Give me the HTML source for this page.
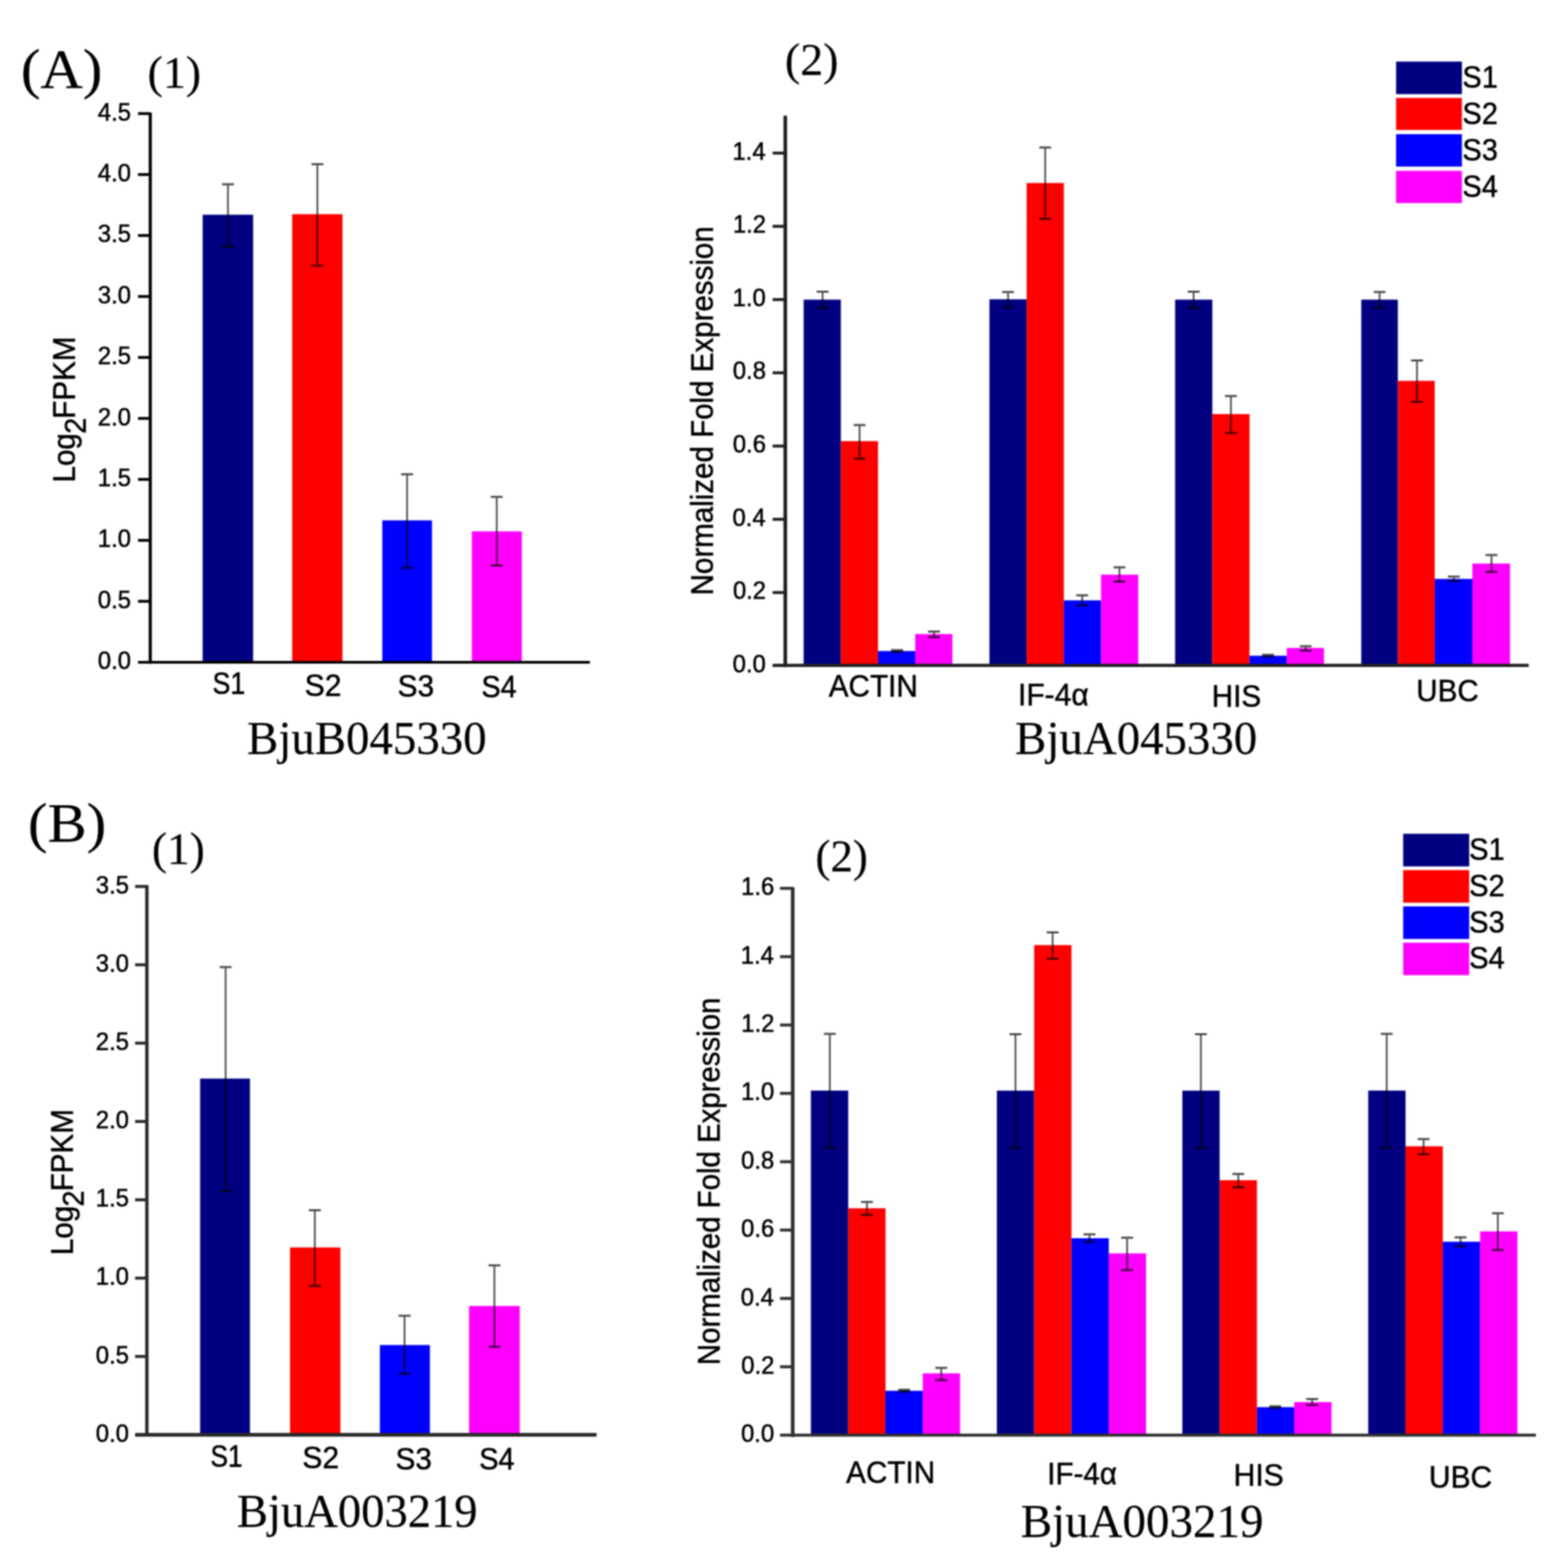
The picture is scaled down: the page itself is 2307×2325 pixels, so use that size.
<!DOCTYPE html>
<html lang="en">
<head>
<meta charset="utf-8">
<title>Gene expression validation: RNA-seq Log2FPKM vs qRT-PCR</title>
<style>
html,body{margin:0;padding:0;background:#fff;}
body{width:2307px;height:2325px;overflow:hidden;}
svg{display:block;}
text{white-space:pre;}
</style>
</head>
<body>
<svg width="2307" height="2325" viewBox="0 0 2307 2325" role="img" aria-label="Bar charts of Log2FPKM and normalized fold expression for BjuB045330 and BjuA003219">
<defs><filter id="soft" x="0" y="0" width="100%" height="100%" filterUnits="userSpaceOnUse" color-interpolation-filters="sRGB"><feGaussianBlur stdDeviation="1.0"/></filter></defs>
<g filter="url(#soft)"><rect x="0" y="0" width="2307" height="2325" fill="#fff"/>
<rect x="300.50" y="318.40" width="74.80" height="663.60" fill="#000080"/>
<rect x="433.20" y="317.60" width="74.60" height="664.40" fill="#ff0000"/>
<rect x="566.80" y="771.60" width="73.70" height="210.40" fill="#0000ff"/>
<rect x="699.60" y="787.90" width="74.10" height="194.10" fill="#ff00ff"/>
<path d="M329.20 273.20H346.80M329.20 365.80H346.80" stroke="#000" stroke-opacity="0.72" stroke-width="3.0" fill="none"/>
<path d="M338.00 274.70V364.30" stroke="#000" stroke-opacity="0.72" stroke-width="2.5" fill="none"/>
<path d="M461.80 243.40H479.40M461.80 393.90H479.40" stroke="#000" stroke-opacity="0.72" stroke-width="3.0" fill="none"/>
<path d="M470.60 244.90V392.40" stroke="#000" stroke-opacity="0.72" stroke-width="2.5" fill="none"/>
<path d="M594.80 703.30H612.40M594.80 842.00H612.40" stroke="#000" stroke-opacity="0.72" stroke-width="3.0" fill="none"/>
<path d="M603.60 704.80V840.50" stroke="#000" stroke-opacity="0.72" stroke-width="2.5" fill="none"/>
<path d="M727.70 736.70H745.30M727.70 838.50H745.30" stroke="#000" stroke-opacity="0.72" stroke-width="3.0" fill="none"/>
<path d="M736.50 738.20V837.00" stroke="#000" stroke-opacity="0.72" stroke-width="2.5" fill="none"/>
<line x1="222.80" y1="167.00" x2="222.80" y2="984.30" stroke="#000" stroke-width="4.6"/>
<line x1="204.60" y1="982.00" x2="874.60" y2="982.00" stroke="#000" stroke-width="4.2"/>
<text x="145.10" y="992.20" font-family="Liberation Sans, sans-serif" font-size="37.0" textLength="49.12" lengthAdjust="spacingAndGlyphs" fill="#000" stroke="#000" stroke-width="0.7">0.0</text>
<line x1="204.60" y1="891.60" x2="222.80" y2="891.60" stroke="#000" stroke-width="4.2"/>
<text x="145.10" y="901.80" font-family="Liberation Sans, sans-serif" font-size="37.0" textLength="49.12" lengthAdjust="spacingAndGlyphs" fill="#000" stroke="#000" stroke-width="0.7">0.5</text>
<line x1="204.60" y1="801.20" x2="222.80" y2="801.20" stroke="#000" stroke-width="4.2"/>
<text x="145.10" y="811.40" font-family="Liberation Sans, sans-serif" font-size="37.0" textLength="49.12" lengthAdjust="spacingAndGlyphs" fill="#000" stroke="#000" stroke-width="0.7">1.0</text>
<line x1="204.60" y1="710.80" x2="222.80" y2="710.80" stroke="#000" stroke-width="4.2"/>
<text x="145.10" y="721.00" font-family="Liberation Sans, sans-serif" font-size="37.0" textLength="49.12" lengthAdjust="spacingAndGlyphs" fill="#000" stroke="#000" stroke-width="0.7">1.5</text>
<line x1="204.60" y1="620.40" x2="222.80" y2="620.40" stroke="#000" stroke-width="4.2"/>
<text x="145.10" y="630.60" font-family="Liberation Sans, sans-serif" font-size="37.0" textLength="49.12" lengthAdjust="spacingAndGlyphs" fill="#000" stroke="#000" stroke-width="0.7">2.0</text>
<line x1="204.60" y1="530.00" x2="222.80" y2="530.00" stroke="#000" stroke-width="4.2"/>
<text x="145.10" y="540.20" font-family="Liberation Sans, sans-serif" font-size="37.0" textLength="49.12" lengthAdjust="spacingAndGlyphs" fill="#000" stroke="#000" stroke-width="0.7">2.5</text>
<line x1="204.60" y1="439.60" x2="222.80" y2="439.60" stroke="#000" stroke-width="4.2"/>
<text x="145.10" y="449.80" font-family="Liberation Sans, sans-serif" font-size="37.0" textLength="49.12" lengthAdjust="spacingAndGlyphs" fill="#000" stroke="#000" stroke-width="0.7">3.0</text>
<line x1="204.60" y1="349.20" x2="222.80" y2="349.20" stroke="#000" stroke-width="4.2"/>
<text x="145.10" y="359.40" font-family="Liberation Sans, sans-serif" font-size="37.0" textLength="49.12" lengthAdjust="spacingAndGlyphs" fill="#000" stroke="#000" stroke-width="0.7">3.5</text>
<line x1="204.60" y1="258.80" x2="222.80" y2="258.80" stroke="#000" stroke-width="4.2"/>
<text x="145.10" y="269.00" font-family="Liberation Sans, sans-serif" font-size="37.0" textLength="49.12" lengthAdjust="spacingAndGlyphs" fill="#000" stroke="#000" stroke-width="0.7">4.0</text>
<line x1="204.60" y1="168.40" x2="222.80" y2="168.40" stroke="#000" stroke-width="4.2"/>
<text x="145.10" y="178.60" font-family="Liberation Sans, sans-serif" font-size="37.0" textLength="49.12" lengthAdjust="spacingAndGlyphs" fill="#000" stroke="#000" stroke-width="0.7">4.5</text>
<text x="30.98" y="130.10" font-family="Liberation Serif, serif" font-size="83" textLength="120.88" lengthAdjust="spacingAndGlyphs" fill="#000" stroke="#000" stroke-width="0.25">(A)</text>
<text x="218.84" y="129.60" font-family="Liberation Serif, serif" font-size="68.5" textLength="79.40" lengthAdjust="spacingAndGlyphs" fill="#000" stroke="#000" stroke-width="0.25">(1)</text>
<text x="314.90" y="1029.20" font-family="Liberation Sans, sans-serif" font-size="46" textLength="48.82" lengthAdjust="spacingAndGlyphs" fill="#000" stroke="#000" stroke-width="0.7">S1</text>
<text x="451.70" y="1031.50" font-family="Liberation Sans, sans-serif" font-size="46" textLength="54.45" lengthAdjust="spacingAndGlyphs" fill="#000" stroke="#000" stroke-width="0.7">S2</text>
<text x="589.51" y="1033.40" font-family="Liberation Sans, sans-serif" font-size="46" textLength="54.10" lengthAdjust="spacingAndGlyphs" fill="#000" stroke="#000" stroke-width="0.7">S3</text>
<text x="713.77" y="1034.00" font-family="Liberation Sans, sans-serif" font-size="46" textLength="52.33" lengthAdjust="spacingAndGlyphs" fill="#000" stroke="#000" stroke-width="0.7">S4</text>
<text x="366.32" y="1118.00" font-family="Liberation Serif, serif" font-size="70" textLength="355.14" lengthAdjust="spacingAndGlyphs" fill="#000" stroke="#000" stroke-width="0.25">BjuB045330</text>
<text transform="translate(110.50 715.51) rotate(-90) scale(0.955 1)" font-family="Liberation Sans, sans-serif" font-size="46" fill="#000" stroke="#000" stroke-width="0.7">Log<tspan x="75.59" dy="16.8" font-size="45">2</tspan><tspan x="99.07" dy="-16.8">FPKM</tspan></text>
<rect x="1191.50" y="444.30" width="55.15" height="542.30" fill="#000080"/>
<rect x="1246.65" y="654.10" width="55.15" height="332.50" fill="#ff0000"/>
<rect x="1301.80" y="965.30" width="55.15" height="21.30" fill="#0000ff"/>
<rect x="1356.95" y="940.20" width="55.15" height="46.40" fill="#ff00ff"/>
<rect x="1467.00" y="443.80" width="55.15" height="542.80" fill="#000080"/>
<rect x="1522.15" y="271.40" width="55.15" height="715.20" fill="#ff0000"/>
<rect x="1577.30" y="890.20" width="55.15" height="96.40" fill="#0000ff"/>
<rect x="1632.45" y="852.10" width="55.15" height="134.50" fill="#ff00ff"/>
<rect x="1742.30" y="444.30" width="55.15" height="542.30" fill="#000080"/>
<rect x="1797.45" y="614.00" width="55.15" height="372.60" fill="#ff0000"/>
<rect x="1852.60" y="972.30" width="55.15" height="14.30" fill="#0000ff"/>
<rect x="1907.75" y="960.80" width="55.15" height="25.80" fill="#ff00ff"/>
<rect x="2018.30" y="444.30" width="54.20" height="542.30" fill="#000080"/>
<rect x="2072.50" y="564.70" width="54.70" height="421.90" fill="#ff0000"/>
<rect x="2127.20" y="858.40" width="55.80" height="128.20" fill="#0000ff"/>
<rect x="2183.00" y="835.60" width="55.80" height="151.00" fill="#ff00ff"/>
<path d="M1210.80 432.50H1228.40M1210.80 456.30H1228.40" stroke="#000" stroke-opacity="0.72" stroke-width="3.0" fill="none"/>
<path d="M1219.60 434.00V454.80" stroke="#000" stroke-opacity="0.72" stroke-width="2.5" fill="none"/>
<path d="M1265.60 630.30H1283.20M1265.60 680.00H1283.20" stroke="#000" stroke-opacity="0.72" stroke-width="3.0" fill="none"/>
<path d="M1274.40 631.80V678.50" stroke="#000" stroke-opacity="0.72" stroke-width="2.5" fill="none"/>
<path d="M1321.20 963.90H1338.80M1321.20 966.60H1338.80" stroke="#000" stroke-opacity="0.72" stroke-width="3.0" fill="none"/>
<path d="M1330.00 965.40V965.10" stroke="#000" stroke-opacity="0.72" stroke-width="2.5" fill="none"/>
<path d="M1376.00 936.50H1393.60M1376.00 944.70H1393.60" stroke="#000" stroke-opacity="0.72" stroke-width="3.0" fill="none"/>
<path d="M1384.80 938.00V943.20" stroke="#000" stroke-opacity="0.72" stroke-width="2.5" fill="none"/>
<path d="M1485.80 432.90H1503.40M1485.80 456.20H1503.40" stroke="#000" stroke-opacity="0.72" stroke-width="3.0" fill="none"/>
<path d="M1494.60 434.40V454.70" stroke="#000" stroke-opacity="0.72" stroke-width="2.5" fill="none"/>
<path d="M1540.90 218.80H1558.50M1540.90 324.50H1558.50" stroke="#000" stroke-opacity="0.72" stroke-width="3.0" fill="none"/>
<path d="M1549.70 220.30V323.00" stroke="#000" stroke-opacity="0.72" stroke-width="2.5" fill="none"/>
<path d="M1595.70 882.70H1613.30M1595.70 897.70H1613.30" stroke="#000" stroke-opacity="0.72" stroke-width="3.0" fill="none"/>
<path d="M1604.50 884.20V896.20" stroke="#000" stroke-opacity="0.72" stroke-width="2.5" fill="none"/>
<path d="M1651.00 841.30H1668.60M1651.00 862.60H1668.60" stroke="#000" stroke-opacity="0.72" stroke-width="3.0" fill="none"/>
<path d="M1659.80 842.80V861.10" stroke="#000" stroke-opacity="0.72" stroke-width="2.5" fill="none"/>
<path d="M1760.90 432.50H1778.50M1760.90 456.30H1778.50" stroke="#000" stroke-opacity="0.72" stroke-width="3.0" fill="none"/>
<path d="M1769.70 434.00V454.80" stroke="#000" stroke-opacity="0.72" stroke-width="2.5" fill="none"/>
<path d="M1816.20 587.30H1833.80M1816.20 642.10H1833.80" stroke="#000" stroke-opacity="0.72" stroke-width="3.0" fill="none"/>
<path d="M1825.00 588.80V640.60" stroke="#000" stroke-opacity="0.72" stroke-width="2.5" fill="none"/>
<path d="M1871.20 971.00H1888.80M1871.20 973.40H1888.80" stroke="#000" stroke-opacity="0.72" stroke-width="3.0" fill="none"/>
<path d="M1880.00 972.50V971.90" stroke="#000" stroke-opacity="0.72" stroke-width="2.5" fill="none"/>
<path d="M1927.10 958.30H1944.70M1927.10 964.80H1944.70" stroke="#000" stroke-opacity="0.72" stroke-width="3.0" fill="none"/>
<path d="M1935.90 959.80V963.30" stroke="#000" stroke-opacity="0.72" stroke-width="2.5" fill="none"/>
<path d="M2036.60 433.00H2054.20M2036.60 456.30H2054.20" stroke="#000" stroke-opacity="0.72" stroke-width="3.0" fill="none"/>
<path d="M2045.40 434.50V454.80" stroke="#000" stroke-opacity="0.72" stroke-width="2.5" fill="none"/>
<path d="M2092.10 534.50H2109.70M2092.10 595.80H2109.70" stroke="#000" stroke-opacity="0.72" stroke-width="3.0" fill="none"/>
<path d="M2100.90 536.00V594.30" stroke="#000" stroke-opacity="0.72" stroke-width="2.5" fill="none"/>
<path d="M2146.70 855.10H2164.30M2146.70 861.40H2164.30" stroke="#000" stroke-opacity="0.72" stroke-width="3.0" fill="none"/>
<path d="M2155.50 856.60V859.90" stroke="#000" stroke-opacity="0.72" stroke-width="2.5" fill="none"/>
<path d="M2202.50 823.00H2220.10M2202.50 848.10H2220.10" stroke="#000" stroke-opacity="0.72" stroke-width="3.0" fill="none"/>
<path d="M2211.30 824.50V846.60" stroke="#000" stroke-opacity="0.72" stroke-width="2.5" fill="none"/>
<line x1="1164.30" y1="171.40" x2="1164.30" y2="989.30" stroke="#202020" stroke-width="5.4"/>
<line x1="1145.50" y1="986.60" x2="2266.60" y2="986.60" stroke="#202020" stroke-width="4.6"/>
<text x="1086.30" y="996.80" font-family="Liberation Sans, sans-serif" font-size="37.0" textLength="49.12" lengthAdjust="spacingAndGlyphs" fill="#000" stroke="#000" stroke-width="0.7">0.0</text>
<line x1="1145.50" y1="878.60" x2="1164.30" y2="878.60" stroke="#202020" stroke-width="4.4"/>
<text x="1086.65" y="888.20" font-family="Liberation Sans, sans-serif" font-size="37.0" textLength="49.12" lengthAdjust="spacingAndGlyphs" fill="#000" stroke="#000" stroke-width="0.7">0.2</text>
<line x1="1145.50" y1="770.00" x2="1164.30" y2="770.00" stroke="#202020" stroke-width="4.4"/>
<text x="1085.94" y="779.60" font-family="Liberation Sans, sans-serif" font-size="37.0" textLength="49.12" lengthAdjust="spacingAndGlyphs" fill="#000" stroke="#000" stroke-width="0.7">0.4</text>
<line x1="1145.50" y1="661.40" x2="1164.30" y2="661.40" stroke="#202020" stroke-width="4.4"/>
<text x="1086.47" y="671.00" font-family="Liberation Sans, sans-serif" font-size="37.0" textLength="49.12" lengthAdjust="spacingAndGlyphs" fill="#000" stroke="#000" stroke-width="0.7">0.6</text>
<line x1="1145.50" y1="552.80" x2="1164.30" y2="552.80" stroke="#202020" stroke-width="4.4"/>
<text x="1086.47" y="562.40" font-family="Liberation Sans, sans-serif" font-size="37.0" textLength="49.12" lengthAdjust="spacingAndGlyphs" fill="#000" stroke="#000" stroke-width="0.7">0.8</text>
<line x1="1145.50" y1="444.20" x2="1164.30" y2="444.20" stroke="#202020" stroke-width="4.4"/>
<text x="1086.30" y="453.80" font-family="Liberation Sans, sans-serif" font-size="37.0" textLength="49.12" lengthAdjust="spacingAndGlyphs" fill="#000" stroke="#000" stroke-width="0.7">1.0</text>
<line x1="1145.50" y1="335.60" x2="1164.30" y2="335.60" stroke="#202020" stroke-width="4.4"/>
<text x="1086.65" y="345.20" font-family="Liberation Sans, sans-serif" font-size="37.0" textLength="49.12" lengthAdjust="spacingAndGlyphs" fill="#000" stroke="#000" stroke-width="0.7">1.2</text>
<line x1="1145.50" y1="227.00" x2="1164.30" y2="227.00" stroke="#202020" stroke-width="4.4"/>
<text x="1085.94" y="236.60" font-family="Liberation Sans, sans-serif" font-size="37.0" textLength="49.12" lengthAdjust="spacingAndGlyphs" fill="#000" stroke="#000" stroke-width="0.7">1.4</text>
<text x="1163.74" y="111.40" font-family="Liberation Serif, serif" font-size="68.5" textLength="79.40" lengthAdjust="spacingAndGlyphs" fill="#000" stroke="#000" stroke-width="0.25">(2)</text>
<text x="1228.78" y="1032.90" font-family="Liberation Sans, sans-serif" font-size="46" textLength="132.04" lengthAdjust="spacingAndGlyphs" fill="#000" stroke="#000" stroke-width="0.7">ACTIN</text>
<text x="1509.29" y="1046.20" font-family="Liberation Sans, sans-serif" font-size="46" textLength="104.89" lengthAdjust="spacingAndGlyphs" fill="#000" stroke="#000" stroke-width="0.7">IF-4α</text>
<text x="1796.47" y="1047.80" font-family="Liberation Sans, sans-serif" font-size="46" textLength="73.50" lengthAdjust="spacingAndGlyphs" fill="#000" stroke="#000" stroke-width="0.7">HIS</text>
<text x="2099.81" y="1039.70" font-family="Liberation Sans, sans-serif" font-size="46" textLength="92.60" lengthAdjust="spacingAndGlyphs" fill="#000" stroke="#000" stroke-width="0.7">UBC</text>
<text x="1505.12" y="1118.00" font-family="Liberation Serif, serif" font-size="70" textLength="358.95" lengthAdjust="spacingAndGlyphs" fill="#000" stroke="#000" stroke-width="0.25">BjuA045330</text>
<text transform="translate(1057.00 882.80) rotate(-90)" font-family="Liberation Sans, sans-serif" font-size="46" textLength="547.35" lengthAdjust="spacingAndGlyphs" fill="#000" stroke="#000" stroke-width="0.7">Normalized Fold Expression</text>
<rect x="2069.90" y="91.30" width="97.60" height="48.30" fill="#000080"/>
<rect x="2069.90" y="145.20" width="97.60" height="47.50" fill="#ff0000"/>
<rect x="2069.90" y="199.00" width="97.60" height="48.00" fill="#0000ff"/>
<rect x="2069.90" y="253.30" width="97.60" height="47.80" fill="#ff00ff"/>
<text x="2168.27" y="130.40" font-family="Liberation Sans, sans-serif" font-size="46" textLength="52.50" lengthAdjust="spacingAndGlyphs" fill="#000" stroke="#000" stroke-width="0.7">S1</text>
<text x="2168.27" y="184.40" font-family="Liberation Sans, sans-serif" font-size="46" textLength="52.50" lengthAdjust="spacingAndGlyphs" fill="#000" stroke="#000" stroke-width="0.7">S2</text>
<text x="2168.27" y="238.00" font-family="Liberation Sans, sans-serif" font-size="46" textLength="52.50" lengthAdjust="spacingAndGlyphs" fill="#000" stroke="#000" stroke-width="0.7">S3</text>
<text x="2168.27" y="291.50" font-family="Liberation Sans, sans-serif" font-size="46" textLength="52.52" lengthAdjust="spacingAndGlyphs" fill="#000" stroke="#000" stroke-width="0.7">S4</text>
<rect x="296.70" y="1599.30" width="73.90" height="528.20" fill="#000080"/>
<rect x="430.00" y="1849.70" width="74.70" height="277.80" fill="#ff0000"/>
<rect x="563.20" y="1994.40" width="74.20" height="133.10" fill="#0000ff"/>
<rect x="695.40" y="1936.50" width="75.20" height="191.00" fill="#ff00ff"/>
<path d="M325.70 1434.10H343.30M325.70 1766.10H343.30" stroke="#000" stroke-opacity="0.72" stroke-width="3.0" fill="none"/>
<path d="M334.50 1435.60V1764.60" stroke="#000" stroke-opacity="0.72" stroke-width="2.5" fill="none"/>
<path d="M458.00 1794.40H475.60M458.00 1906.70H475.60" stroke="#000" stroke-opacity="0.72" stroke-width="3.0" fill="none"/>
<path d="M466.80 1795.90V1905.20" stroke="#000" stroke-opacity="0.72" stroke-width="2.5" fill="none"/>
<path d="M591.00 1951.00H608.60M591.00 2036.90H608.60" stroke="#000" stroke-opacity="0.72" stroke-width="3.0" fill="none"/>
<path d="M599.80 1952.50V2035.40" stroke="#000" stroke-opacity="0.72" stroke-width="2.5" fill="none"/>
<path d="M724.20 1876.20H741.80M724.20 1996.90H741.80" stroke="#000" stroke-opacity="0.72" stroke-width="3.0" fill="none"/>
<path d="M733.00 1877.70V1995.40" stroke="#000" stroke-opacity="0.72" stroke-width="2.5" fill="none"/>
<line x1="217.80" y1="1312.60" x2="217.80" y2="2130.00" stroke="#282828" stroke-width="5.0"/>
<line x1="200.30" y1="2127.50" x2="884.50" y2="2127.50" stroke="#282828" stroke-width="5.4"/>
<text x="142.10" y="2137.70" font-family="Liberation Sans, sans-serif" font-size="37.0" textLength="49.12" lengthAdjust="spacingAndGlyphs" fill="#000" stroke="#000" stroke-width="0.7">0.0</text>
<line x1="200.30" y1="2011.35" x2="217.80" y2="2011.35" stroke="#282828" stroke-width="4.4"/>
<text x="142.10" y="2021.55" font-family="Liberation Sans, sans-serif" font-size="37.0" textLength="49.12" lengthAdjust="spacingAndGlyphs" fill="#000" stroke="#000" stroke-width="0.7">0.5</text>
<line x1="200.30" y1="1895.20" x2="217.80" y2="1895.20" stroke="#282828" stroke-width="4.4"/>
<text x="142.10" y="1905.40" font-family="Liberation Sans, sans-serif" font-size="37.0" textLength="49.12" lengthAdjust="spacingAndGlyphs" fill="#000" stroke="#000" stroke-width="0.7">1.0</text>
<line x1="200.30" y1="1779.05" x2="217.80" y2="1779.05" stroke="#282828" stroke-width="4.4"/>
<text x="142.10" y="1789.25" font-family="Liberation Sans, sans-serif" font-size="37.0" textLength="49.12" lengthAdjust="spacingAndGlyphs" fill="#000" stroke="#000" stroke-width="0.7">1.5</text>
<line x1="200.30" y1="1662.90" x2="217.80" y2="1662.90" stroke="#282828" stroke-width="4.4"/>
<text x="142.10" y="1673.10" font-family="Liberation Sans, sans-serif" font-size="37.0" textLength="49.12" lengthAdjust="spacingAndGlyphs" fill="#000" stroke="#000" stroke-width="0.7">2.0</text>
<line x1="200.30" y1="1546.75" x2="217.80" y2="1546.75" stroke="#282828" stroke-width="4.4"/>
<text x="142.10" y="1556.95" font-family="Liberation Sans, sans-serif" font-size="37.0" textLength="49.12" lengthAdjust="spacingAndGlyphs" fill="#000" stroke="#000" stroke-width="0.7">2.5</text>
<line x1="200.30" y1="1430.60" x2="217.80" y2="1430.60" stroke="#282828" stroke-width="4.4"/>
<text x="142.10" y="1440.80" font-family="Liberation Sans, sans-serif" font-size="37.0" textLength="49.12" lengthAdjust="spacingAndGlyphs" fill="#000" stroke="#000" stroke-width="0.7">3.0</text>
<line x1="200.30" y1="1314.45" x2="217.80" y2="1314.45" stroke="#282828" stroke-width="4.4"/>
<text x="142.10" y="1324.65" font-family="Liberation Sans, sans-serif" font-size="37.0" textLength="49.12" lengthAdjust="spacingAndGlyphs" fill="#000" stroke="#000" stroke-width="0.7">3.5</text>
<text x="41.49" y="1247.60" font-family="Liberation Serif, serif" font-size="83" textLength="115.85" lengthAdjust="spacingAndGlyphs" fill="#000" stroke="#000" stroke-width="0.25">(B)</text>
<text x="225.17" y="1281.40" font-family="Liberation Serif, serif" font-size="68.5" textLength="78.53" lengthAdjust="spacingAndGlyphs" fill="#000" stroke="#000" stroke-width="0.25">(1)</text>
<text x="311.94" y="2174.70" font-family="Liberation Sans, sans-serif" font-size="46" textLength="47.74" lengthAdjust="spacingAndGlyphs" fill="#000" stroke="#000" stroke-width="0.7">S1</text>
<text x="448.29" y="2176.70" font-family="Liberation Sans, sans-serif" font-size="46" textLength="54.55" lengthAdjust="spacingAndGlyphs" fill="#000" stroke="#000" stroke-width="0.7">S2</text>
<text x="586.52" y="2178.70" font-family="Liberation Sans, sans-serif" font-size="46" textLength="53.78" lengthAdjust="spacingAndGlyphs" fill="#000" stroke="#000" stroke-width="0.7">S3</text>
<text x="710.47" y="2178.70" font-family="Liberation Sans, sans-serif" font-size="46" textLength="52.54" lengthAdjust="spacingAndGlyphs" fill="#000" stroke="#000" stroke-width="0.7">S4</text>
<text x="351.33" y="2264.00" font-family="Liberation Serif, serif" font-size="70" textLength="356.67" lengthAdjust="spacingAndGlyphs" fill="#000" stroke="#000" stroke-width="0.25">BjuA003219</text>
<text transform="translate(107.50 1861.11) rotate(-90) scale(0.955 1)" font-family="Liberation Sans, sans-serif" font-size="46" fill="#000" stroke="#000" stroke-width="0.7">Log<tspan x="75.59" dy="16.8" font-size="45">2</tspan><tspan x="99.07" dy="-16.8">FPKM</tspan></text>
<rect x="1202.30" y="1617.10" width="55.30" height="510.90" fill="#000080"/>
<rect x="1257.60" y="1791.60" width="55.30" height="336.40" fill="#ff0000"/>
<rect x="1312.90" y="2062.20" width="55.30" height="65.80" fill="#0000ff"/>
<rect x="1368.20" y="2036.40" width="55.30" height="91.60" fill="#ff00ff"/>
<rect x="1478.00" y="1617.20" width="55.30" height="510.80" fill="#000080"/>
<rect x="1533.30" y="1401.40" width="55.30" height="726.60" fill="#ff0000"/>
<rect x="1588.60" y="1836.00" width="55.30" height="292.00" fill="#0000ff"/>
<rect x="1643.90" y="1858.50" width="55.30" height="269.50" fill="#ff00ff"/>
<rect x="1753.00" y="1617.20" width="55.30" height="510.80" fill="#000080"/>
<rect x="1808.30" y="1750.00" width="55.30" height="378.00" fill="#ff0000"/>
<rect x="1863.60" y="2086.50" width="55.30" height="41.50" fill="#0000ff"/>
<rect x="1918.90" y="2079.00" width="55.30" height="49.00" fill="#ff00ff"/>
<rect x="2028.60" y="1617.10" width="55.30" height="510.90" fill="#000080"/>
<rect x="2083.90" y="1699.70" width="55.30" height="428.30" fill="#ff0000"/>
<rect x="2139.20" y="1841.20" width="55.30" height="286.80" fill="#0000ff"/>
<rect x="2194.50" y="1825.90" width="55.30" height="302.10" fill="#ff00ff"/>
<path d="M1221.50 1533.00H1239.10M1221.50 1702.20H1239.10" stroke="#000" stroke-opacity="0.72" stroke-width="3.0" fill="none"/>
<path d="M1230.30 1534.50V1700.70" stroke="#000" stroke-opacity="0.72" stroke-width="2.5" fill="none"/>
<path d="M1276.60 1782.30H1294.20M1276.60 1801.60H1294.20" stroke="#000" stroke-opacity="0.72" stroke-width="3.0" fill="none"/>
<path d="M1285.40 1783.80V1800.10" stroke="#000" stroke-opacity="0.72" stroke-width="2.5" fill="none"/>
<path d="M1331.70 2060.80H1349.30M1331.70 2063.40H1349.30" stroke="#000" stroke-opacity="0.72" stroke-width="3.0" fill="none"/>
<path d="M1340.50 2062.30V2061.90" stroke="#000" stroke-opacity="0.72" stroke-width="2.5" fill="none"/>
<path d="M1386.80 2028.20H1404.40M1386.80 2046.40H1404.40" stroke="#000" stroke-opacity="0.72" stroke-width="3.0" fill="none"/>
<path d="M1395.60 2029.70V2044.90" stroke="#000" stroke-opacity="0.72" stroke-width="2.5" fill="none"/>
<path d="M1496.80 1533.40H1514.40M1496.80 1702.10H1514.40" stroke="#000" stroke-opacity="0.72" stroke-width="3.0" fill="none"/>
<path d="M1505.60 1534.90V1700.60" stroke="#000" stroke-opacity="0.72" stroke-width="2.5" fill="none"/>
<path d="M1551.90 1382.60H1569.50M1551.90 1421.40H1569.50" stroke="#000" stroke-opacity="0.72" stroke-width="3.0" fill="none"/>
<path d="M1560.70 1384.10V1419.90" stroke="#000" stroke-opacity="0.72" stroke-width="2.5" fill="none"/>
<path d="M1606.50 1830.30H1624.10M1606.50 1841.50H1624.10" stroke="#000" stroke-opacity="0.72" stroke-width="3.0" fill="none"/>
<path d="M1615.30 1831.80V1840.00" stroke="#000" stroke-opacity="0.72" stroke-width="2.5" fill="none"/>
<path d="M1662.30 1835.30H1679.90M1662.30 1883.30H1679.90" stroke="#000" stroke-opacity="0.72" stroke-width="3.0" fill="none"/>
<path d="M1671.10 1836.80V1881.80" stroke="#000" stroke-opacity="0.72" stroke-width="2.5" fill="none"/>
<path d="M1771.70 1533.40H1789.30M1771.70 1702.10H1789.30" stroke="#000" stroke-opacity="0.72" stroke-width="3.0" fill="none"/>
<path d="M1780.50 1534.90V1700.60" stroke="#000" stroke-opacity="0.72" stroke-width="2.5" fill="none"/>
<path d="M1827.20 1740.70H1844.80M1827.20 1760.50H1844.80" stroke="#000" stroke-opacity="0.72" stroke-width="3.0" fill="none"/>
<path d="M1836.00 1742.20V1759.00" stroke="#000" stroke-opacity="0.72" stroke-width="2.5" fill="none"/>
<path d="M1882.00 2085.20H1899.60M1882.00 2087.60H1899.60" stroke="#000" stroke-opacity="0.72" stroke-width="3.0" fill="none"/>
<path d="M1890.80 2086.70V2086.10" stroke="#000" stroke-opacity="0.72" stroke-width="2.5" fill="none"/>
<path d="M1936.60 2074.50H1954.20M1936.60 2083.20H1954.20" stroke="#000" stroke-opacity="0.72" stroke-width="3.0" fill="none"/>
<path d="M1945.40 2076.00V2081.70" stroke="#000" stroke-opacity="0.72" stroke-width="2.5" fill="none"/>
<path d="M2047.20 1533.00H2064.80M2047.20 1702.20H2064.80" stroke="#000" stroke-opacity="0.72" stroke-width="3.0" fill="none"/>
<path d="M2056.00 1534.50V1700.70" stroke="#000" stroke-opacity="0.72" stroke-width="2.5" fill="none"/>
<path d="M2101.90 1689.00H2119.50M2101.90 1711.50H2119.50" stroke="#000" stroke-opacity="0.72" stroke-width="3.0" fill="none"/>
<path d="M2110.70 1690.50V1710.00" stroke="#000" stroke-opacity="0.72" stroke-width="2.5" fill="none"/>
<path d="M2156.70 1834.70H2174.30M2156.70 1847.90H2174.30" stroke="#000" stroke-opacity="0.72" stroke-width="3.0" fill="none"/>
<path d="M2165.50 1836.20V1846.40" stroke="#000" stroke-opacity="0.72" stroke-width="2.5" fill="none"/>
<path d="M2212.00 1799.10H2229.60M2212.00 1853.40H2229.60" stroke="#000" stroke-opacity="0.72" stroke-width="3.0" fill="none"/>
<path d="M2220.80 1800.60V1851.90" stroke="#000" stroke-opacity="0.72" stroke-width="2.5" fill="none"/>
<line x1="1175.30" y1="1315.40" x2="1175.30" y2="2130.70" stroke="#303030" stroke-width="5.4"/>
<line x1="1156.50" y1="2128.00" x2="2277.20" y2="2128.00" stroke="#303030" stroke-width="4.6"/>
<text x="1098.70" y="2138.20" font-family="Liberation Sans, sans-serif" font-size="37.0" textLength="49.12" lengthAdjust="spacingAndGlyphs" fill="#000" stroke="#000" stroke-width="0.7">0.0</text>
<line x1="1156.50" y1="2026.65" x2="1175.30" y2="2026.65" stroke="#303030" stroke-width="4.4"/>
<text x="1099.05" y="2036.85" font-family="Liberation Sans, sans-serif" font-size="37.0" textLength="49.12" lengthAdjust="spacingAndGlyphs" fill="#000" stroke="#000" stroke-width="0.7">0.2</text>
<line x1="1156.50" y1="1925.30" x2="1175.30" y2="1925.30" stroke="#303030" stroke-width="4.4"/>
<text x="1098.34" y="1935.50" font-family="Liberation Sans, sans-serif" font-size="37.0" textLength="49.12" lengthAdjust="spacingAndGlyphs" fill="#000" stroke="#000" stroke-width="0.7">0.4</text>
<line x1="1156.50" y1="1823.95" x2="1175.30" y2="1823.95" stroke="#303030" stroke-width="4.4"/>
<text x="1098.87" y="1834.15" font-family="Liberation Sans, sans-serif" font-size="37.0" textLength="49.12" lengthAdjust="spacingAndGlyphs" fill="#000" stroke="#000" stroke-width="0.7">0.6</text>
<line x1="1156.50" y1="1722.60" x2="1175.30" y2="1722.60" stroke="#303030" stroke-width="4.4"/>
<text x="1098.87" y="1732.80" font-family="Liberation Sans, sans-serif" font-size="37.0" textLength="49.12" lengthAdjust="spacingAndGlyphs" fill="#000" stroke="#000" stroke-width="0.7">0.8</text>
<line x1="1156.50" y1="1621.25" x2="1175.30" y2="1621.25" stroke="#303030" stroke-width="4.4"/>
<text x="1098.70" y="1631.45" font-family="Liberation Sans, sans-serif" font-size="37.0" textLength="49.12" lengthAdjust="spacingAndGlyphs" fill="#000" stroke="#000" stroke-width="0.7">1.0</text>
<line x1="1156.50" y1="1519.90" x2="1175.30" y2="1519.90" stroke="#303030" stroke-width="4.4"/>
<text x="1099.05" y="1530.10" font-family="Liberation Sans, sans-serif" font-size="37.0" textLength="49.12" lengthAdjust="spacingAndGlyphs" fill="#000" stroke="#000" stroke-width="0.7">1.2</text>
<line x1="1156.50" y1="1418.55" x2="1175.30" y2="1418.55" stroke="#303030" stroke-width="4.4"/>
<text x="1098.34" y="1428.75" font-family="Liberation Sans, sans-serif" font-size="37.0" textLength="49.12" lengthAdjust="spacingAndGlyphs" fill="#000" stroke="#000" stroke-width="0.7">1.4</text>
<line x1="1156.50" y1="1317.20" x2="1175.30" y2="1317.20" stroke="#303030" stroke-width="4.4"/>
<text x="1098.87" y="1327.40" font-family="Liberation Sans, sans-serif" font-size="37.0" textLength="49.12" lengthAdjust="spacingAndGlyphs" fill="#000" stroke="#000" stroke-width="0.7">1.6</text>
<text x="1208.89" y="1291.90" font-family="Liberation Serif, serif" font-size="68.5" textLength="77.99" lengthAdjust="spacingAndGlyphs" fill="#000" stroke="#000" stroke-width="0.25">(2)</text>
<text x="1254.58" y="2198.70" font-family="Liberation Sans, sans-serif" font-size="46" textLength="131.84" lengthAdjust="spacingAndGlyphs" fill="#000" stroke="#000" stroke-width="0.7">ACTIN</text>
<text x="1552.76" y="2200.50" font-family="Liberation Sans, sans-serif" font-size="46" textLength="103.20" lengthAdjust="spacingAndGlyphs" fill="#000" stroke="#000" stroke-width="0.7">IF-4α</text>
<text x="1828.93" y="2203.00" font-family="Liberation Sans, sans-serif" font-size="46" textLength="74.47" lengthAdjust="spacingAndGlyphs" fill="#000" stroke="#000" stroke-width="0.7">HIS</text>
<text x="2118.57" y="2205.50" font-family="Liberation Sans, sans-serif" font-size="46" textLength="93.87" lengthAdjust="spacingAndGlyphs" fill="#000" stroke="#000" stroke-width="0.7">UBC</text>
<text x="1513.41" y="2279.30" font-family="Liberation Serif, serif" font-size="70" textLength="359.81" lengthAdjust="spacingAndGlyphs" fill="#000" stroke="#000" stroke-width="0.25">BjuA003219</text>
<text transform="translate(1067.20 2024.19) rotate(-90)" font-family="Liberation Sans, sans-serif" font-size="46" textLength="545.02" lengthAdjust="spacingAndGlyphs" fill="#000" stroke="#000" stroke-width="0.7">Normalized Fold Expression</text>
<rect x="2080.40" y="1236.30" width="97.90" height="48.40" fill="#000080"/>
<rect x="2080.40" y="1290.20" width="97.90" height="48.30" fill="#ff0000"/>
<rect x="2080.40" y="1344.00" width="97.90" height="48.30" fill="#0000ff"/>
<rect x="2080.40" y="1397.80" width="97.90" height="48.10" fill="#ff00ff"/>
<text x="2178.26" y="1275.40" font-family="Liberation Sans, sans-serif" font-size="46" textLength="52.71" lengthAdjust="spacingAndGlyphs" fill="#000" stroke="#000" stroke-width="0.7">S1</text>
<text x="2178.26" y="1329.20" font-family="Liberation Sans, sans-serif" font-size="46" textLength="52.71" lengthAdjust="spacingAndGlyphs" fill="#000" stroke="#000" stroke-width="0.7">S2</text>
<text x="2178.26" y="1382.60" font-family="Liberation Sans, sans-serif" font-size="46" textLength="52.72" lengthAdjust="spacingAndGlyphs" fill="#000" stroke="#000" stroke-width="0.7">S3</text>
<text x="2178.26" y="1436.40" font-family="Liberation Sans, sans-serif" font-size="46" textLength="52.74" lengthAdjust="spacingAndGlyphs" fill="#000" stroke="#000" stroke-width="0.7">S4</text>
</g>
</svg>
</body>
</html>
